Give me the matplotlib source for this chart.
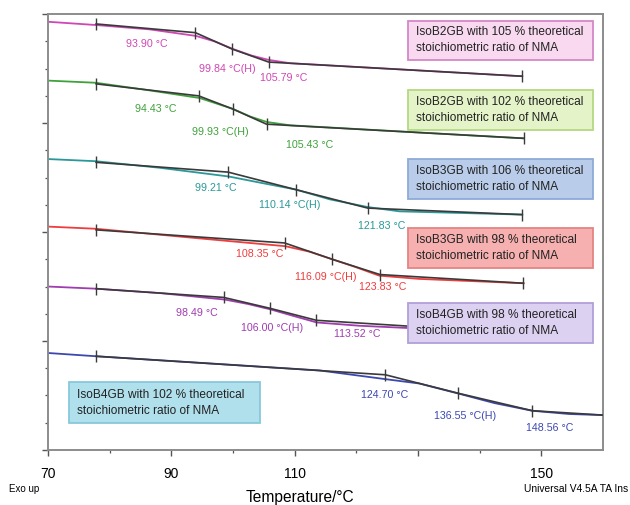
#!/usr/bin/env python3

"""
DSC glass transition traces, IsoBxGB / NMA samples
"""

import numpy as np
import matplotlib
matplotlib.use("Agg")
import matplotlib.pyplot as plt
from matplotlib.patches import Rectangle

plt.rcParams["font.family"] = ["Liberation Sans", "DejaVu Sans"]

#############################################################
######################### Data ##############################
#############################################################

# measured traces (temperature in C, heat flow offset in arbitrary units)
T_b2_105 = [70, 77.8, 86.5, 94.0, 97.0, 100.0, 103.0, 105.8, 109.2, 146.9]
Y_b2_105 = [3.93, 3.90, 3.86, 3.80, 3.75, 3.68, 3.62, 3.58, 3.55, 3.43]
T_b2_102 = [70, 77.8, 86.5, 94.6, 97.3, 100.0, 102.8, 105.5, 109.2, 147.2]
Y_b2_102 = [3.39, 3.37, 3.30, 3.23, 3.18, 3.13, 3.06, 3.01, 2.98, 2.86]
T_b3_106 = [70, 77.8, 88.1, 99.3, 104.7, 110.2, 115.7, 121.8, 127.0, 146.9]
Y_b3_106 = [2.67, 2.65, 2.59, 2.51, 2.45, 2.39, 2.30, 2.23, 2.19, 2.16]
T_b3_98 = [70, 77.8, 93.0, 108.5, 112.4, 116.1, 119.8, 123.7, 130.2, 147.1]
Y_b3_98 = [2.05, 2.03, 1.95, 1.87, 1.82, 1.75, 1.68, 1.60, 1.57, 1.53]
T_b4_98 = [70, 77.8, 88.1, 98.7, 102.4, 106.1, 109.8, 113.6, 120.5, 128.1, 146.9]
Y_b4_98 = [1.50, 1.48, 1.44, 1.38, 1.34, 1.29, 1.23, 1.17, 1.14, 1.12, 1.07]
T_b4_102 = [70, 77.8, 94.6, 114.0, 124.7, 130.2, 136.4, 142.4, 148.5, 154.5, 159.9]
Y_b4_102 = [0.89, 0.86, 0.80, 0.73, 0.65, 0.61, 0.52, 0.43, 0.36, 0.33, 0.32]

# analysis points: start, onset, midpoint(H), end, limit
Tm_b2_105 = [77.8, 93.90, 99.84, 105.79, 146.9]
Ym_b2_105 = [3.91, 3.83, 3.68, 3.56, 3.43]
Tm_b2_102 = [77.8, 94.43, 99.93, 105.43, 147.2]
Ym_b2_102 = [3.36, 3.25, 3.13, 2.99, 2.86]
Tm_b3_106 = [77.8, 99.21, 110.14, 121.83, 146.9]
Ym_b3_106 = [2.64, 2.55, 2.39, 2.22, 2.16]
Tm_b3_98 = [77.8, 108.35, 116.09, 123.83, 147.1]
Ym_b3_98 = [2.02, 1.90, 1.75, 1.61, 1.53]
Tm_b4_98 = [77.8, 98.49, 106.00, 113.52, 146.9]
Ym_b4_98 = [1.48, 1.40, 1.30, 1.19, 1.07]
Tm_b4_102 = [77.8, 124.70, 136.55, 148.56, 160.0]
Ym_b4_102 = [0.86, 0.69, 0.52, 0.36, 0.32]

Names = ["IsoB2GB with 105 % theoretical\nstoichiometric ratio of NMA",
         "IsoB2GB with 102 % theoretical\nstoichiometric ratio of NMA",
         "IsoB3GB with 106 % theoretical\nstoichiometric ratio of NMA",
         "IsoB3GB with 98 % theoretical\nstoichiometric ratio of NMA",
         "IsoB4GB with 98 % theoretical\nstoichiometric ratio of NMA",
         "IsoB4GB with 102 % theoretical\nstoichiometric ratio of NMA"]

XTicks = [70, 90, 110, 130, 150]
XTickLabels = ["70", "90", "110", "", "150"]

#############################################################
######################### Layout ############################
#############################################################

FigureSize = (6.3, 5.05)
LineColors = ["#d046b4", "#3ea23a", "#2a9898", "#f03c3c", "#a03cb0", "#3c48b0"]
BoxFace = ["#f8d9f0", "#e4f4c8", "#b9cdea", "#f6b0b0", "#ddd1f2", "#b0e0ec"]
BoxEdge = ["#d488c8", "#b4d884", "#8eaad8", "#e48484", "#b0a0d8", "#88c8dc"]
# box rectangles: (left, bottom, width, height) in data units
BoxRect = [(128.3, 3.58, 30.0, 0.36), (128.3, 2.94, 30.0, 0.36),
           (128.3, 2.30, 30.0, 0.37), (128.3, 1.67, 30.0, 0.37),
           (128.3, 0.98, 30.0, 0.37), (73.4, 0.25, 30.9, 0.37)]
TextPad = 1.3   # C from box edge to text
# label centre for onset, midpoint, end
LabelPos = [[(86.0, 3.73), (99.0, 3.50), (108.2, 3.41)],
            [(87.5, 3.13), (98.0, 2.92), (112.4, 2.80)],
            [(97.2, 2.40), (109.2, 2.25), (124.1, 2.06)],
            [(104.3, 1.80), (115.0, 1.59), (124.3, 1.50)],
            [(94.1, 1.26), (106.4, 1.12), (120.2, 1.06)],
            [(124.6, 0.50), (137.7, 0.31), (151.3, 0.20)]]

Traces = [(T_b2_105, Y_b2_105), (T_b2_102, Y_b2_102), (T_b3_106, Y_b3_106),
          (T_b3_98, Y_b3_98), (T_b4_98, Y_b4_98), (T_b4_102, Y_b4_102)]
Marks = [(Tm_b2_105, Ym_b2_105), (Tm_b2_102, Ym_b2_102), (Tm_b3_106, Ym_b3_106),
         (Tm_b3_98, Ym_b3_98), (Tm_b4_98, Ym_b4_98), (Tm_b4_102, Ym_b4_102)]

################################################################
######################### Plot #################################
################################################################

fig = plt.figure(figsize=FigureSize, dpi=100)
ax = fig.add_axes([0.0762, 0.109, 0.881, 0.863])

for i in range(len(Traces)):
    T, Y = Traces[i]
    Tm, Ym = Marks[i]
    ax.plot(T, Y, color=LineColors[i], lw=1.3, zorder=2)
    # last sample runs to the edge with no end mark
    every = [0, 1, 2, 3] if i == 5 else [0, 1, 2, 3, 4]
    ax.plot(Tm, Ym, color="#3a3a3a", lw=1.2, marker="|", markersize=8,
            markeredgewidth=1.0, markevery=every, zorder=3)
    for j in range(3):
        txt = "%.2f \u00b0C" % Tm[j + 1]
        if j == 1:
            txt = txt + "(H)"
        ax.text(LabelPos[i][j][0], LabelPos[i][j][1], txt, color=LineColors[i],
                fontsize=7.7, ha="center", va="center", zorder=4)
    x0, y0, w, h = BoxRect[i]
    ax.add_patch(Rectangle((x0, y0), w, h, facecolor=BoxFace[i],
                           edgecolor=BoxEdge[i], linewidth=1.3, zorder=5))
    ax.text(x0 + TextPad, y0 + h / 2, Names[i], fontsize=8.6, ha="left",
            va="center", linespacing=1.45, color="#222222", zorder=6)

ax.set_xlim(70, 160)
ax.set_ylim(0, 4)
ax.set_xticks(XTicks)
ax.set_xticklabels(XTickLabels, fontsize=10)
ax.set_xticks(np.arange(80, 160, 20), minor=True)
ax.set_yticks([0, 1, 2, 3, 4])
ax.set_yticks(np.arange(0, 4, 0.25), minor=True)
ax.set_yticklabels([])
ax.tick_params(which="major", direction="out", length=4, width=1.0,
               color="#555555", pad=8)
ax.tick_params(which="minor", direction="out", length=2.5, width=0.9,
               color="#555555")
for s in ax.spines.values():
    s.set_color("#8c8c8c")
    s.set_linewidth(1.4)

fig.text(0.476, 0.029, "Temperature/\u00b0C", fontsize=11.2, ha="center", va="top")
fig.text(0.014, 0.032, "Exo up", fontsize=7, ha="left", va="center")
fig.text(0.997, 0.032, "Universal V4.5A TA Ins", fontsize=7.4,
         ha="right", va="center")

plt.savefig("out.png", dpi=100)
